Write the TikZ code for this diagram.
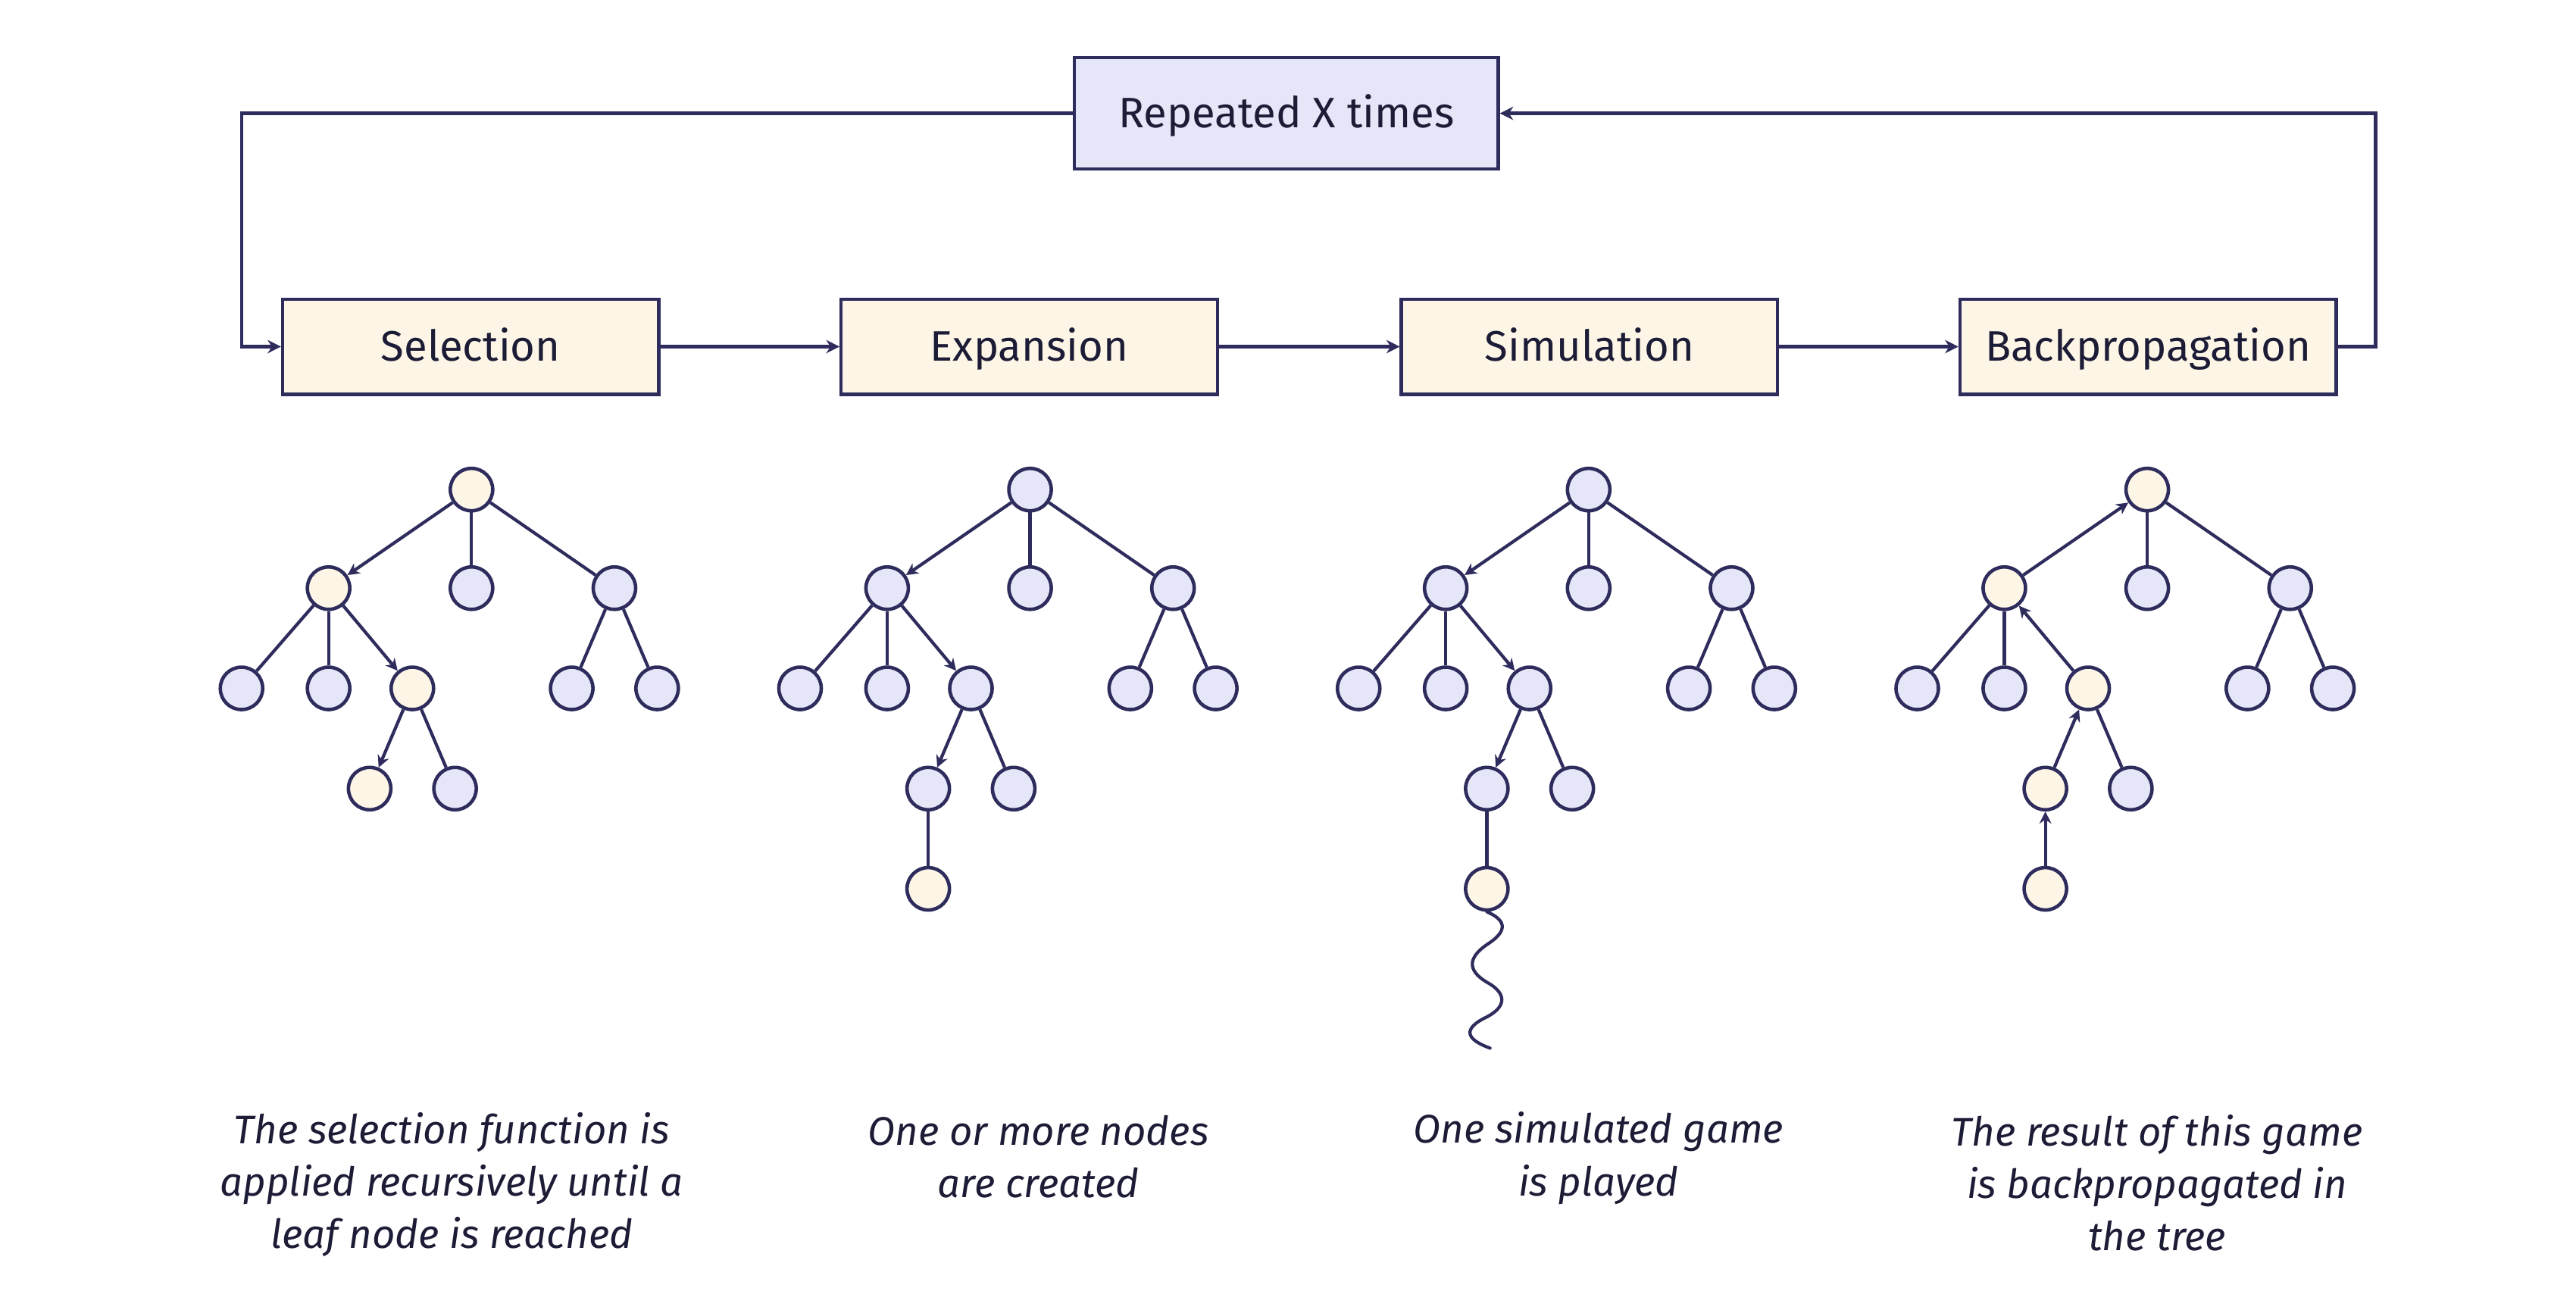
\documentclass[tikz,border=0pt]{standalone}
\usepackage{fontspec}
\setmainfont{Fira Sans}
\usetikzlibrary{arrows.meta}
\definecolor{navy}{HTML}{2E2C5C}
\definecolor{lav}{HTML}{E6E6F9}
\definecolor{cream}{HTML}{FDF6E7}
\definecolor{ink}{HTML}{1D1C36}
\newcommand\mctree[5]{%
  \node[tn, fill=#2] (#1r) at (0,298) {};
  \node[tn, fill=#3] (#1a) at (-87,358) {};
  \node[tn] (#1b) at (0,358) {};
  \node[tn] (#1c) at (87,358) {};
  \node[tn] (#1aa) at (-140,419) {};
  \node[tn] (#1ab) at (-87,419) {};
  \node[tn, fill=#4] (#1ac) at (-36,419) {};
  \node[tn] (#1ca) at (61,419) {};
  \node[tn] (#1cb) at (113,419) {};
  \node[tn, fill=#5] (#1d) at (-62,480) {};
  \node[tn] (#1e) at (-10,480) {};
  \draw[edge] (#1r) -- (#1b);
  \draw[edge] (#1r) -- (#1c);
  \draw[edge] (#1a) -- (#1aa);
  \draw[edge] (#1a) -- (#1ab);
  \draw[edge] (#1ac) -- (#1e);
  \draw[edge] (#1c) -- (#1ca);
  \draw[edge] (#1c) -- (#1cb);
}
\begin{document}
\begin{tikzpicture}[x=0.021684cm,y=-0.021684cm,
  stepbox/.style={draw=navy, line width=1.2pt, fill=cream, minimum width=4.966cm, minimum height=1.258cm, inner sep=0pt, text=ink, font=\fontsize{16}{19}\selectfont, text height=12pt, text depth=1pt},
  topbox/.style={stepbox, fill=lav, minimum width=5.594cm, minimum height=1.475cm},
  tn/.style={circle, draw=navy, line width=1.3pt, fill=lav, minimum size=0.56cm, inner sep=0pt},
  edge/.style={draw=navy, line width=1.2pt},
  arr/.style={edge, -{Stealth[length=4.5pt,width=4.5pt]}},
  bigarr/.style={edge, -{Stealth[length=5pt,width=5pt]}},
  caption/.style={align=center, text=ink, font=\itshape\fontsize{15}{19.7}\selectfont, inner sep=0pt}
]
\useasboundingbox (0,0) rectangle (1568,797);

\node[topbox] (top) at (783,69) {Repeated X times};
\node[stepbox] (sel) at (286.5,211) {Selection};
\node[stepbox] (exp) at (626.5,211) {Expansion};
\node[stepbox] (sim) at (967.5,211) {Simulation};
\node[stepbox] (bck) at (1307.5,211) {Backpropagation};

\coordinate (lc) at (147,211);
\coordinate (rc) at (1446,211);
\draw[bigarr] (top.west) -| (lc) -- (sel.west);
\draw[bigarr] (bck.east) -- (rc) |- (top.east);
\draw[bigarr] (sel) -- (exp);
\draw[bigarr] (exp) -- (sim);
\draw[bigarr] (sim) -- (bck);

% Selection tree
\begin{scope}[shift={(287,0)}]
  \mctree{s}{cream}{cream}{cream}{cream}
  \draw[arr] (sr) -- (sa);
  \draw[arr] (sa) -- (sac);
  \draw[arr] (sac) -- (sd);
\end{scope}

% Expansion tree
\begin{scope}[shift={(627,0)}]
  \mctree{e}{lav}{lav}{lav}{lav}
  \node[tn, fill=cream] (ef) at (-62,541) {};
  \draw[arr] (er) -- (ea);
  \draw[arr] (ea) -- (eac);
  \draw[arr] (eac) -- (ed);
  \draw[edge] (ed) -- (ef);
\end{scope}

% Simulation tree
\begin{scope}[shift={(967,0)}]
  \mctree{m}{lav}{lav}{lav}{lav}
  \node[tn, fill=cream] (mf) at (-62,541) {};
  \draw[arr] (mr) -- (ma);
  \draw[arr] (ma) -- (mac);
  \draw[arr] (mac) -- (md);
  \draw[edge] (md) -- (mf);
  \coordinate (mw) at (-60,638);
  \draw[edge, line cap=round] (mf.south) .. controls (-48,561) and (-51,568) .. (-62,575)
     .. controls (-75,584) and (-73,592) .. (-60,599)
     .. controls (-49,606) and (-51,614) .. (-64,620)
     .. controls (-79,628) and (-71,634) .. (mw);
\end{scope}

% Backpropagation tree
\begin{scope}[shift={(1307,0)}]
  \mctree{b}{cream}{cream}{cream}{cream}
  \node[tn, fill=cream] (bf) at (-62,541) {};
  \draw[arr] (ba) -- (br);
  \draw[arr] (bac) -- (ba);
  \draw[arr] (bd) -- (bac);
  \draw[arr] (bf) -- (bd);
\end{scope}

\node[caption] (c1) at (275,721) {The selection function is\\applied recursively until a\\leaf node is reached};
\node[caption] (c2) at (632,704) {One or more nodes\\are created};
\node[caption] (c3) at (973,705) {One simulated game\\is played};
\node[caption] (c4) at (1313,720) {The result of this game\\is backpropagated in\\the tree};
\end{tikzpicture}
\end{document}
